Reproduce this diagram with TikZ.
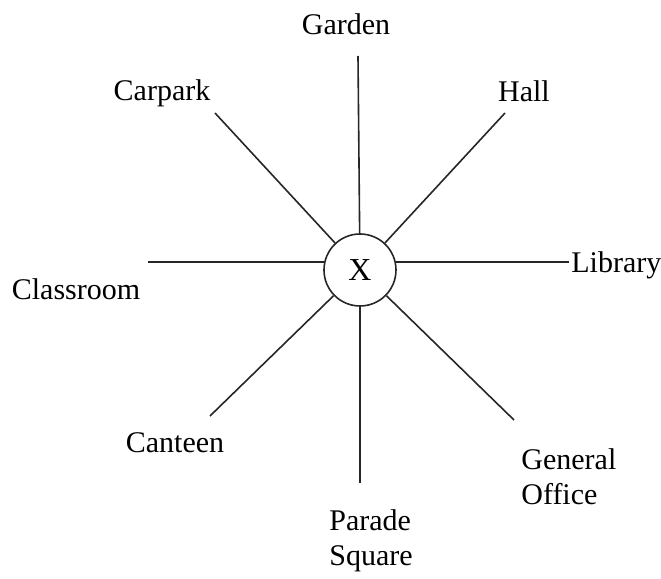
\documentclass[tikz,border=0pt]{standalone}
\usepackage{fontspec}
\setmainfont{Liberation Serif}
\usetikzlibrary{positioning}
\begin{document}
\begin{tikzpicture}[x=0.5pt,y=0.5pt,
  spoke/.style={draw=black!85, line width=0.8pt},
  place/.style={font=\fontsize{15}{17.5}\selectfont, inner sep=0pt, align=left}]
  \useasboundingbox (0,0) rectangle (661,579);
  % centre
  \node[circle, draw=black!85, line width=0.8pt, minimum size=36pt, inner sep=0pt,
        font=\fontsize{16}{18}\selectfont] (x) at (360,309) {X};
  % ends of the spokes
  \coordinate (gardenend)  at (358,523);
  \coordinate (hallend)    at (505,466);
  \coordinate (libraryend) at (569,317);
  \coordinate (officeend)  at (514,159);
  \coordinate (paradeend)  at (360,96);
  \coordinate (canteenend) at (210,163);
  \coordinate (classend)   at (148,317);
  \coordinate (carparkend) at (215,466);
  % labels
  \node[place] (garden)  at (346,555) {Garden};
  \node[place] (hall)    at (524,488) {Hall};
  \node[place, anchor=west] (library) at (571,314) {Library};
  \node[place, anchor=west] (office)  at (521,102) {General\\Office};
  \node[place, anchor=west] (parade)  at (329,38)  {Parade\\Square};
  \node[place] (canteen) at (175,136) {Canteen};
  \node[place] (class)   at (76,290)  {Classroom};
  \node[place] (carpark) at (162,486) {Carpark};
  % spokes
  \draw[spoke] (x) -- (gardenend);
  \draw[spoke] (x) -- (hallend);
  \draw[spoke] (x.13) -- (x.13 -| libraryend);
  \draw[spoke] (x) -- (officeend);
  \draw[spoke] (x) -- (paradeend);
  \draw[spoke] (x) -- (canteenend);
  \draw[spoke] (x.167) -- (x.167 -| classend);
  \draw[spoke] (x) -- (carparkend);
\end{tikzpicture}
\end{document}
